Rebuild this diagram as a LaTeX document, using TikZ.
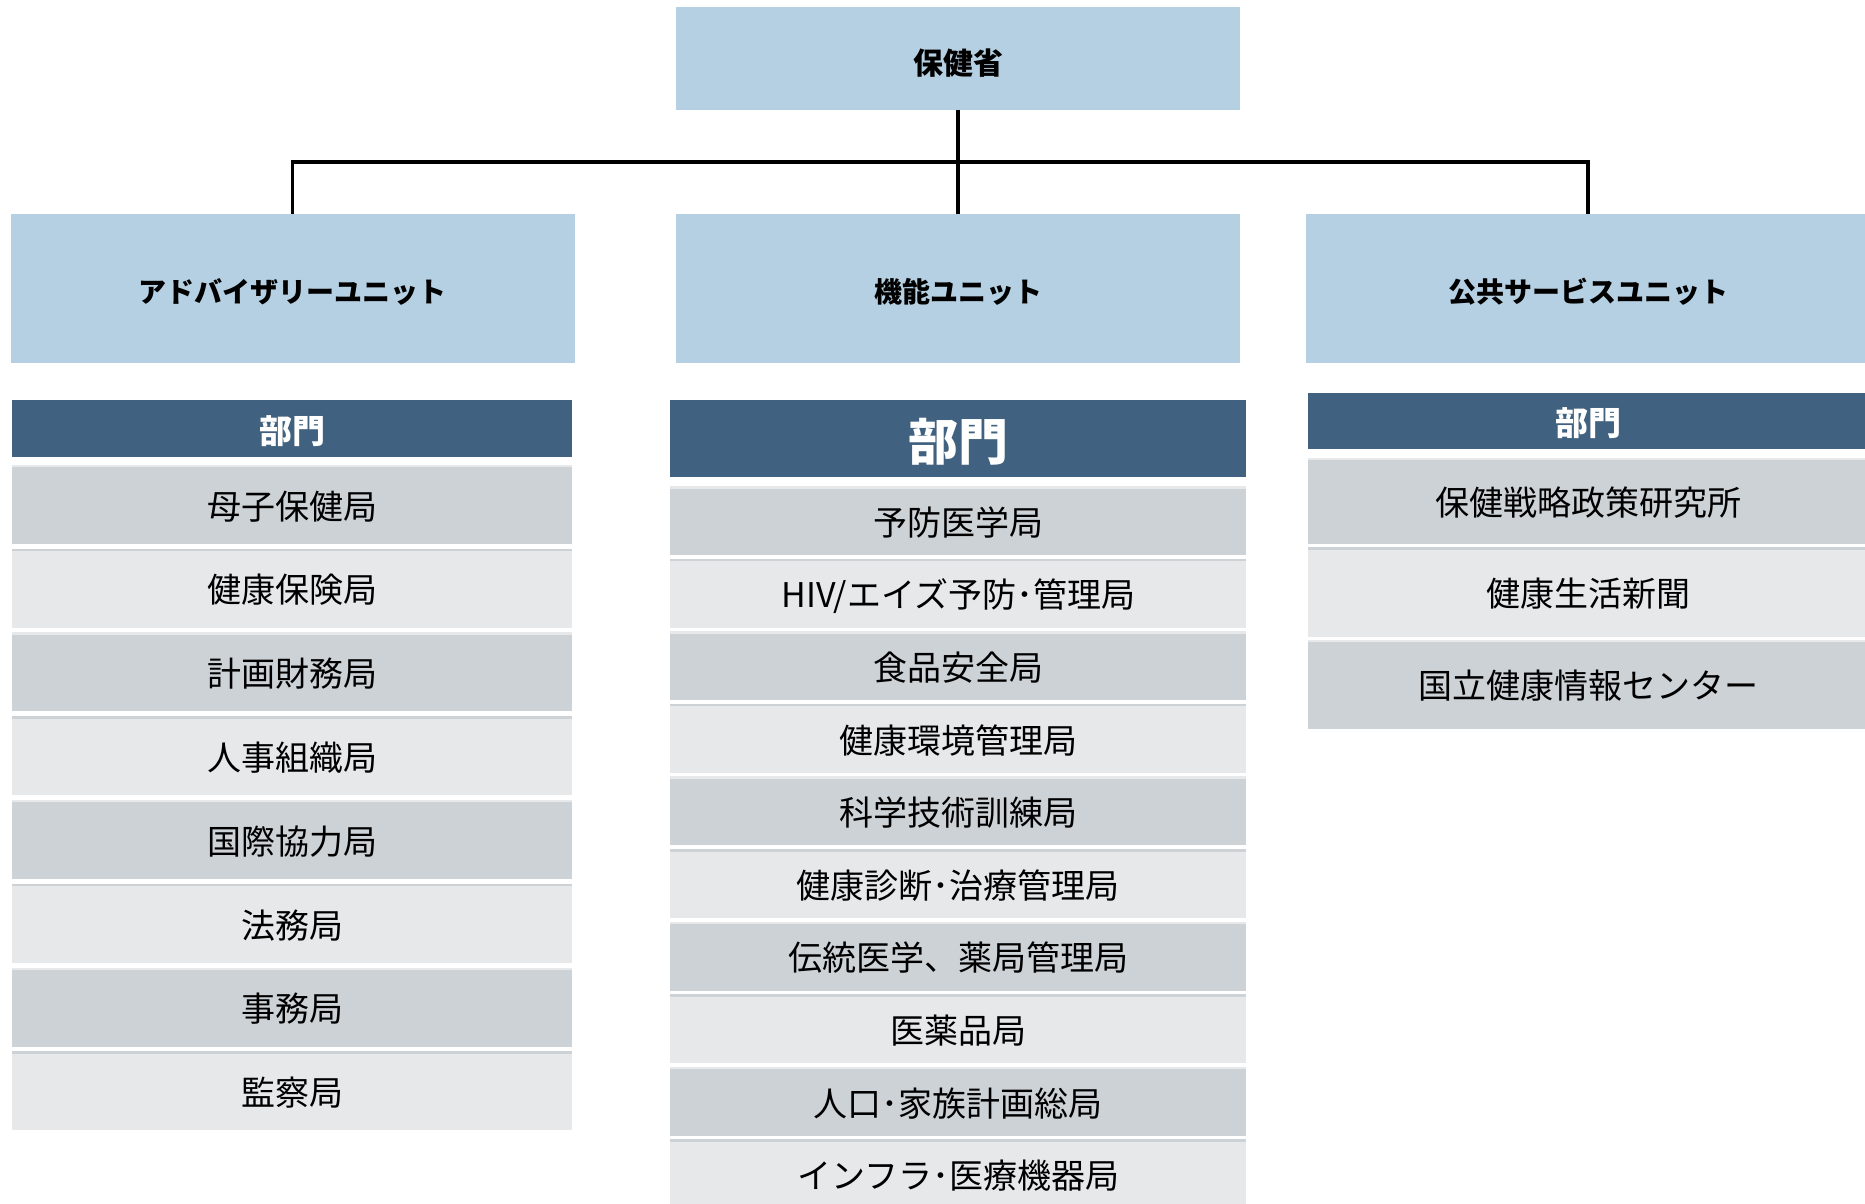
\documentclass[tikz,border=0pt]{standalone}
\usepackage{fontspec}
\setmainfont{Noto Sans CJK JP}
\definecolor{unitblue}{HTML}{B5D0E2}
\definecolor{hdrblue}{HTML}{40617F}
\definecolor{grayd}{HTML}{CDD2D7}
\definecolor{grayl}{HTML}{E7E8EA}
\tikzset{
  blk/.style={rectangle, inner sep=0pt, outer sep=0pt, align=center},
  unitbox/.style={blk, fill=unitblue, minimum width=564pt, minimum height=149pt,
    font=\fontsize{28}{32}\selectfont\bfseries, text=black, text height=28.5pt, text depth=0.2pt},
  topbox/.style={blk, fill=unitblue, minimum width=564pt, minimum height=103pt,
    font=\fontsize{30}{34}\selectfont\bfseries, text=black, text height=32pt, text depth=0pt},
  hdrbox/.style={blk, fill=hdrblue, text=white, font=\fontsize{33}{38}\selectfont\bfseries,
    text height=30.5pt, text depth=0.6pt},
  itemtext/.style={font=\fontsize{34}{40}\selectfont, text=black, text height=29.8pt, text depth=0.2pt},
  darkitem/.style={blk, fill=grayd, itemtext},
  lightitem/.style={blk, fill=grayl, itemtext},
  conn/.style={draw=black, line width=3.3pt}
}
\begin{document}
\begin{tikzpicture}[x=1pt,y=-1pt]
\useasboundingbox (0,0) rectangle (1865,1204);
\fill[white] (0,0) rectangle (1865,1204);

% top and unit boxes
\node[topbox] (top) at (958,58.5) {保健省};
\node[unitbox, minimum width=563.8pt] (adv) at (292.6,288.5) {アドバイザリーユニット};
\node[unitbox] (fun) at (958,288.5) {機能ユニット};
\node[unitbox] (pub) at (1588,288.5) {公共サービスユニット};

% connectors
\draw[conn] (top.south) -- (fun.north);
\coordinate (bar) at (958,162);
\draw[conn] (adv.north) -- (adv.north |- bar) -- (pub.north |- bar) -- (pub.north);

% headers
\node[hdrbox, minimum width=559.7pt, minimum height=56.7pt] (advh) at (292.2,428.3) {部門};
\node[hdrbox, minimum width=576.5pt, minimum height=77pt, font=\fontsize{50}{56}\selectfont\bfseries,
  text height=43.5pt, text depth=0.5pt] (funh) at (958.2,438.5) {部門};
\node[hdrbox, minimum width=562.3pt, minimum height=56pt] (pubh) at (1588.8,421) {部門};

% left column items
\foreach \t [count=\i] in {母子保健局,健康保険局,計画財務局,人事組織局,国際協力局,法務局,事務局,監察局}{
  \pgfmathsetmacro{\cy}{504.2+83.8*(\i-1)}
  \pgfmathparse{mod(\i,2)==1 ? "darkitem" : "lightitem"}
  \edef\sty{\pgfmathresult}
  \pgfmathparse{mod(\i,2)==1 ? "grayl" : "grayd"}
  \edef\stc{\pgfmathresult}
  \node[\sty, minimum width=559.7pt, minimum height=79pt] (L\i) at (292.2,\cy) {\t};
  \fill[\stc] (L\i.north west) rectangle ([yshift=-2.5pt]L\i.north east);
}

% middle column items
\foreach \t [count=\i] in {予防医学局,HIV/エイズ予防･管理局,食品安全局,健康環境管理局,科学技術訓練局,健康診断･治療管理局,伝統医学、薬局管理局,医薬品局,人口･家族計画総局,インフラ･医療機器局}{
  \pgfmathsetmacro{\cy}{520.5+72.6*(\i-1)}
  \pgfmathparse{mod(\i,2)==1 ? "darkitem" : "lightitem"}
  \edef\sty{\pgfmathresult}
  \pgfmathparse{mod(\i,2)==1 ? "grayl" : "grayd"}
  \edef\stc{\pgfmathresult}
  \node[\sty, minimum width=576.5pt, minimum height=69pt] (M\i) at (958.2,\cy) {\t};
  \fill[\stc] (M\i.north west) rectangle ([yshift=-2.5pt]M\i.north east);
}

% right column items
\node[darkitem, minimum width=562.3pt, minimum height=86.5pt] (R1) at (1588.8,500.95) {保健戦略政策研究所};
\fill[grayl] (R1.north west) rectangle ([yshift=-2.5pt]R1.north east);
\node[lightitem, minimum width=562.3pt, minimum height=89.8pt] (R2) at (1588.8,591.9) {健康生活新聞};
\fill[grayd] (R2.north west) rectangle ([yshift=-2.5pt]R2.north east);
\node[darkitem, minimum width=562.3pt, minimum height=89pt] (R3) at (1588.8,684) {国立健康情報センター};
\fill[grayl] (R3.north west) rectangle ([yshift=-2.5pt]R3.north east);
\end{tikzpicture}
\end{document}
